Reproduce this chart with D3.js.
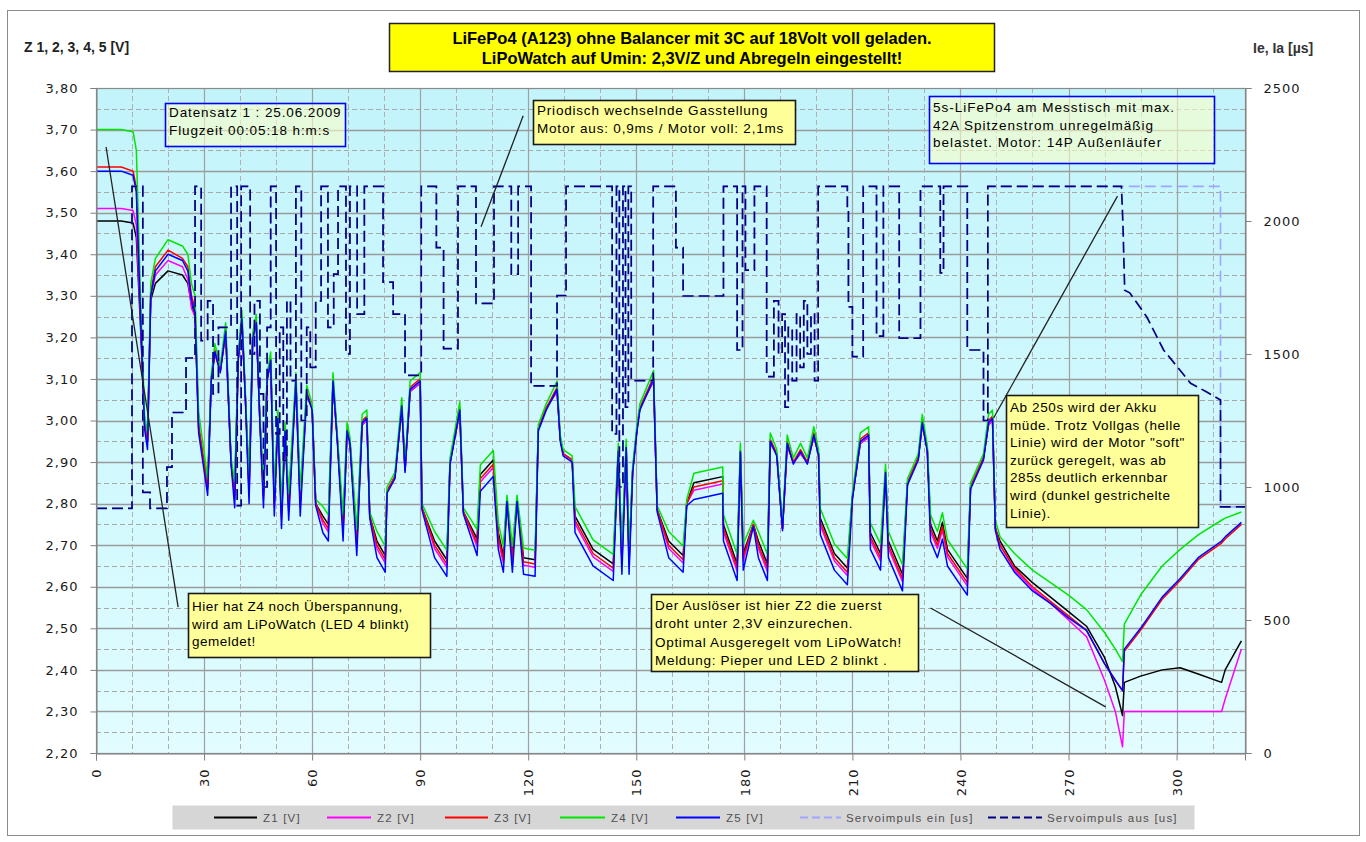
<!DOCTYPE html>
<html>
<head>
<meta charset="utf-8">
<script src="https://cdn.jsdelivr.net/npm/d3@7"></script>
<style>
  body { margin: 0; background: #fff; }
  svg { display: block; font-family: "Liberation Sans", Arial, sans-serif; }
</style>
</head>
<body>
<div id="chart"></div>
<script>
// Zeitachse [s] und Zellenspannungen Z1..Z5 [V]
var secs = [0, 7, 10.3, 11.2, 12.5, 13.5, 14.3, 15.2, 16.5, 20,
  24, 25.5, 26.5, 27.5, 28.5, 31, 32, 33, 34.5, 36,
  37.5, 38.5, 39.5, 40.5, 41.5, 42.5, 43.5, 44.5, 45.5, 46.5,
  47.5, 48.5, 49.5, 50.5, 51.5, 52.5, 53.5, 55.5, 56.7, 58.5,
  60, 61, 63, 64.5, 65.8, 67, 68.6, 69.7, 70.5, 72.4,
  73.9, 75.2, 76, 78, 80.3, 80.8, 83, 84.9, 85.8, 87.2,
  90, 90.5, 94, 97.4, 98.3, 101, 102, 105.8, 106.7, 110.3,
  111.7, 113.1, 114.1, 115.6, 116.9, 118.7, 121.9, 122.8, 125, 128,
  128.9, 129.7, 132.2, 133, 138, 143.6, 145, 146, 147.2, 148,
  149, 150.2, 151, 154.8, 155.8, 159, 163, 164, 166, 174,
  174.2, 178, 178.9, 179.7, 182.5, 183.9, 186.4, 187.2, 189, 190.6,
  191.9, 193.6, 195.6, 197.5, 199.3, 200.6, 201.1, 205, 208.6, 210,
  212.2, 214.5, 215, 217.8, 219.2, 220, 223.9, 225.3, 228.3, 229.4,
  230.8, 231.7, 233.6, 235, 236.4, 241.9, 242.8, 246.4, 247.8, 248.9,
  249.7, 251, 255, 260, 265, 270, 275, 280, 283, 285,
  285.5, 290, 296, 301, 306, 312.5, 313.5, 318];

var z1 = [3.48, 3.48, 3.475, 3.44, 3.20, 2.99, 2.95, 3.29, 3.33, 3.36,
  3.35, 3.33, 3.28, 3.25, 2.98, 2.84, 3.10, 3.16, 3.12, 3.21,
  2.90, 2.83, 3.15, 3.24, 3.05, 2.84, 3.20, 3.23, 3.00, 2.83,
  3.10, 3.14, 2.81, 3.00, 2.78, 2.97, 2.80, 3.09, 2.81, 3.06,
  3.03, 2.80, 2.77, 2.75, 3.09, 2.955, 2.75, 2.97, 2.95, 2.715,
  2.99, 3.00, 2.77, 2.71, 2.675, 2.83, 2.865, 3.03, 2.88, 3.07,
  3.09, 2.79, 2.71, 2.665, 2.90, 3.02, 2.78, 2.715, 2.87, 2.905,
  2.73, 2.675, 2.81, 2.675, 2.81, 2.67, 2.665, 2.98, 3.03, 3.07,
  2.955, 2.92, 2.905, 2.77, 2.69, 2.655, 2.92, 2.67, 2.93, 2.67,
  2.88, 2.98, 3.03, 3.095, 2.785, 2.71, 2.675, 2.80, 2.85, 2.865,
  2.75, 2.655, 2.92, 2.68, 2.75, 2.71, 2.655, 2.945, 2.92, 2.74,
  2.94, 2.90, 2.92, 2.90, 2.96, 2.92, 2.765, 2.68, 2.645, 2.815,
  2.945, 2.96, 2.73, 2.68, 2.87, 2.71, 2.63, 2.85, 2.91, 2.99,
  2.93, 2.75, 2.71, 2.755, 2.69, 2.62, 2.84, 2.91, 2.99, 3.00,
  2.74, 2.71, 2.65, 2.61, 2.575, 2.54, 2.505, 2.43, 2.36, 2.29,
  2.37, 2.385, 2.40, 2.405, 2.39, 2.37, 2.40, 2.47];

var z2 = [3.51, 3.51, 3.505, 3.47, 3.21, 2.99, 2.95, 3.30, 3.35, 3.385,
  3.37, 3.34, 3.27, 3.25, 2.98, 2.835, 3.10, 3.16, 3.12, 3.21,
  2.90, 2.812, 3.15, 3.24, 3.05, 2.822, 3.20, 3.23, 3.00, 2.812,
  3.10, 3.14, 2.792, 3.00, 2.762, 2.97, 2.782, 3.09, 2.792, 3.06,
  3.03, 2.80, 2.752, 2.732, 3.09, 2.955, 2.732, 2.97, 2.95, 2.697,
  2.99, 3.00, 2.77, 2.692, 2.657, 2.83, 2.865, 3.03, 2.88, 3.07,
  3.09, 2.79, 2.692, 2.647, 2.90, 3.02, 2.78, 2.697, 2.852, 2.887,
  2.712, 2.657, 2.81, 2.657, 2.81, 2.652, 2.647, 2.98, 3.03, 3.07,
  2.955, 2.92, 2.905, 2.752, 2.672, 2.637, 2.92, 2.652, 2.93, 2.652,
  2.88, 2.98, 3.03, 3.095, 2.785, 2.692, 2.657, 2.80, 2.832, 2.847,
  2.732, 2.637, 2.92, 2.662, 2.75, 2.692, 2.637, 2.945, 2.92, 2.74,
  2.94, 2.90, 2.92, 2.90, 2.96, 2.92, 2.747, 2.662, 2.627, 2.815,
  2.945, 2.96, 2.712, 2.662, 2.87, 2.692, 2.612, 2.85, 2.91, 2.99,
  2.93, 2.732, 2.692, 2.737, 2.672, 2.602, 2.84, 2.91, 2.99, 3.00,
  2.74, 2.70, 2.64, 2.595, 2.56, 2.52, 2.48, 2.375, 2.30, 2.215,
  2.30, 2.30, 2.30, 2.30, 2.30, 2.30, 2.33, 2.45];

var z3 = [3.61, 3.61, 3.60, 3.56, 3.22, 2.99, 2.95, 3.31, 3.37, 3.41,
  3.39, 3.37, 3.30, 3.27, 2.99, 2.84, 3.10, 3.17, 3.12, 3.22,
  2.90, 2.82, 3.15, 3.25, 3.05, 2.83, 3.20, 3.24, 3.00, 2.82,
  3.10, 3.15, 2.80, 3.01, 2.77, 2.98, 2.79, 3.10, 2.80, 3.07,
  3.03, 2.80, 2.76, 2.74, 3.10, 2.955, 2.74, 2.98, 2.95, 2.705,
  3.00, 3.01, 2.77, 2.70, 2.665, 2.83, 2.865, 3.04, 2.88, 3.08,
  3.10, 2.79, 2.70, 2.655, 2.90, 3.03, 2.78, 2.705, 2.86, 2.895,
  2.72, 2.665, 2.81, 2.665, 2.81, 2.66, 2.655, 2.98, 3.03, 3.08,
  2.955, 2.92, 2.905, 2.76, 2.68, 2.645, 2.93, 2.66, 2.94, 2.66,
  2.88, 2.98, 3.03, 3.105, 2.785, 2.70, 2.665, 2.80, 2.84, 2.855,
  2.74, 2.645, 2.93, 2.67, 2.75, 2.70, 2.645, 2.955, 2.92, 2.74,
  2.95, 2.90, 2.93, 2.90, 2.97, 2.92, 2.755, 2.67, 2.635, 2.815,
  2.955, 2.97, 2.72, 2.67, 2.88, 2.70, 2.62, 2.85, 2.91, 3.00,
  2.93, 2.74, 2.70, 2.745, 2.68, 2.61, 2.84, 2.91, 3.00, 3.01,
  2.74, 2.70, 2.645, 2.60, 2.565, 2.53, 2.495, 2.415, 2.375, 2.35,
  2.445, 2.495, 2.57, 2.615, 2.665, 2.705, 2.715, 2.75];

var z4 = [3.70, 3.70, 3.695, 3.65, 3.26, 3.01, 2.97, 3.33, 3.39, 3.435,
  3.42, 3.40, 3.33, 3.30, 3.02, 2.86, 3.11, 3.185, 3.13, 3.235,
  2.91, 2.853, 3.16, 3.265, 3.06, 2.863, 3.21, 3.255, 3.01, 2.853,
  3.11, 3.165, 2.833, 3.025, 2.803, 2.995, 2.823, 3.115, 2.833, 3.085,
  3.04, 2.81, 2.793, 2.773, 3.115, 2.965, 2.773, 2.995, 2.96, 2.738,
  3.015, 3.025, 2.78, 2.733, 2.698, 2.84, 2.875, 3.055, 2.89, 3.095,
  3.115, 2.80, 2.733, 2.688, 2.91, 3.045, 2.79, 2.738, 2.893, 2.928,
  2.753, 2.698, 2.82, 2.698, 2.82, 2.693, 2.688, 2.99, 3.04, 3.095,
  2.965, 2.93, 2.915, 2.793, 2.713, 2.678, 2.945, 2.693, 2.955, 2.693,
  2.89, 2.99, 3.04, 3.12, 2.795, 2.733, 2.698, 2.81, 2.873, 2.888,
  2.773, 2.678, 2.945, 2.703, 2.76, 2.733, 2.678, 2.97, 2.93, 2.75,
  2.965, 2.91, 2.945, 2.91, 2.985, 2.93, 2.788, 2.703, 2.668, 2.825,
  2.97, 2.985, 2.753, 2.703, 2.895, 2.733, 2.653, 2.86, 2.92, 3.015,
  2.94, 2.773, 2.733, 2.778, 2.713, 2.643, 2.85, 2.92, 3.015, 3.025,
  2.76, 2.72, 2.68, 2.64, 2.61, 2.58, 2.545, 2.49, 2.45, 2.42,
  2.51, 2.58, 2.65, 2.69, 2.725, 2.76, 2.765, 2.78];

var z5 = [3.60, 3.60, 3.59, 3.55, 3.22, 2.98, 2.93, 3.30, 3.36, 3.40,
  3.385, 3.36, 3.29, 3.26, 2.97, 2.82, 3.095, 3.165, 3.115, 3.215,
  2.895, 2.79, 3.145, 3.245, 3.045, 2.80, 3.195, 3.235, 2.995, 2.79,
  3.095, 3.145, 2.77, 3.005, 2.74, 2.975, 2.76, 3.095, 2.77, 3.065,
  3.025, 2.795, 2.73, 2.71, 3.095, 2.95, 2.71, 2.975, 2.945, 2.675,
  2.995, 3.005, 2.765, 2.67, 2.635, 2.825, 2.86, 3.035, 2.875, 3.075,
  3.095, 2.785, 2.67, 2.625, 2.895, 3.025, 2.775, 2.675, 2.83, 2.865,
  2.69, 2.635, 2.805, 2.635, 2.805, 2.63, 2.625, 2.975, 3.025, 3.075,
  2.95, 2.915, 2.90, 2.73, 2.65, 2.615, 2.925, 2.63, 2.935, 2.63,
  2.875, 2.975, 3.025, 3.10, 2.78, 2.67, 2.635, 2.795, 2.81, 2.825,
  2.71, 2.615, 2.925, 2.64, 2.745, 2.67, 2.615, 2.95, 2.915, 2.735,
  2.945, 2.895, 2.925, 2.895, 2.965, 2.915, 2.725, 2.64, 2.605, 2.81,
  2.95, 2.965, 2.69, 2.64, 2.875, 2.67, 2.59, 2.845, 2.905, 2.995,
  2.925, 2.71, 2.67, 2.715, 2.65, 2.58, 2.835, 2.905, 2.995, 3.005,
  2.735, 2.69, 2.635, 2.59, 2.56, 2.525, 2.495, 2.415, 2.375, 2.35,
  2.45, 2.50, 2.575, 2.62, 2.67, 2.71, 2.72, 2.755];

// Servoimpuls aus [us] als Stufenpunkte [s, us]
var servoAus = [[0, 920], [10, 920], [10, 2130], [13, 2130], [13, 980], [15, 980], [15, 920],
  [19.7, 920], [19.7, 1075], [21.1, 1075], [21.1, 1280], [25, 1280], [25, 1485], [27.5, 1485],
  [27.5, 2130], [29.2, 2130], [29.2, 1550], [31, 1550], [31, 1700], [32.5, 1700], [32.5, 1350],
  [34, 1350], [34, 1600], [37.5, 1600], [37.5, 2130], [39.2, 2130], [39.2, 930], [40.3, 930],
  [40.3, 2130], [42.8, 2130], [42.8, 1500], [44, 1500], [44, 1700], [45.5, 1700], [45.5, 1350],
  [46.5, 1350], [46.5, 1000], [47.5, 1000], [47.5, 1600], [48.5, 1600], [48.5, 2130], [50, 2130],
  [50, 1200], [51, 1200], [51, 1600], [52, 1600], [52, 1100], [53, 1100], [53, 1700], [54, 1700],
  [54, 1400], [55.5, 1400], [55.5, 2130], [57, 2130], [57, 1250], [58.5, 1250], [58.5, 1600],
  [59.5, 1600], [59.5, 1450], [61, 1450], [61, 1700], [62.5, 1700], [62.5, 2130], [64.4, 2130],
  [64.4, 1600], [66, 1600], [66, 1800], [67.2, 1800], [67.2, 2130], [69.4, 2130], [69.4, 1500],
  [70.5, 1500], [70.5, 2130], [72.5, 2130], [72.5, 1650], [74.5, 1650], [74.5, 2130], [79.7, 2130],
  [79.7, 1770], [82.5, 1770], [82.5, 1650], [85.8, 1650], [85.8, 1420], [90.3, 1420], [90.3, 2130],
  [94.5, 2130], [94.5, 1900], [96.5, 1900], [96.5, 1520], [100.5, 1520], [100.5, 2130],
  [105.5, 2130], [105.5, 1690], [110.5, 1690], [110.5, 2130], [115.3, 2130], [115.3, 1800],
  [117.2, 1800], [117.2, 2130], [120.8, 2130], [120.8, 1380], [128, 1380], [128, 1720],
  [130.5, 1720], [130.5, 2130], [143.3, 2130], [143.3, 1200], [144.5, 1200], [144.5, 2130],
  [145.3, 2130], [145.3, 1000], [146.3, 1000], [146.3, 2130], [147, 2130], [147, 1300],
  [147.8, 1300], [147.8, 2130], [148.6, 2130], [148.6, 1400], [154.7, 1400], [154.7, 2130],
  [161, 2130], [161, 1900], [163, 1900], [163, 1718], [174.2, 1718], [174.2, 2130], [178, 2130],
  [178, 1515], [179.5, 1515], [179.5, 2130], [180.3, 2130], [180.3, 1815], [182.8, 1815],
  [182.8, 2130], [186.2, 2130], [186.2, 1415], [188.2, 1415], [188.2, 1700], [189.5, 1700],
  [189.5, 1500], [190.5, 1500], [190.5, 1650], [191.3, 1650], [191.3, 1300], [192.2, 1300],
  [192.2, 1600], [193.3, 1600], [193.3, 1400], [194.5, 1400], [194.5, 1650], [195.5, 1650],
  [195.5, 1450], [196.5, 1450], [196.5, 1700], [197.5, 1700], [197.5, 1500], [198.5, 1500],
  [198.5, 1650], [199.5, 1650], [199.5, 1400], [200.5, 1400], [200.5, 2130], [208.6, 2130],
  [208.6, 2050], [208.9, 2050], [208.9, 1677], [210, 1677], [210, 1490], [213, 1490], [213, 2130],
  [216.7, 2130], [216.7, 1567], [218.6, 1567], [218.6, 2130], [223, 2130], [223, 1560],
  [228.9, 1560], [228.9, 2130], [234.4, 2130], [234.4, 1805], [235.3, 1805], [235.3, 2130],
  [241.9, 2130], [241.9, 1515], [246.4, 1515], [246.4, 1250], [247.6, 1250], [247.6, 2130],
  [284.7, 2130], [285.1, 1992], [285.6, 1740], [287, 1730], [291.7, 1640], [296.4, 1515],
  [303.9, 1390], [308, 1360], [312.2, 1327], [312.2, 925], [319, 925]];

// Servoimpuls ein [us]: deckt sich bis 284,7 s mit "aus", danach Vollgas
var servoEinTail = [[284.7, 2130], [312.2, 2130], [312.2, 925], [319, 925]];

var voltTicks = [2.2, 2.3, 2.4, 2.5, 2.6, 2.7, 2.8, 2.9, 3.0, 3.1, 3.2, 3.3, 3.4, 3.5, 3.6, 3.7, 3.8];
var servoTicks = [0, 500, 1000, 1500, 2000, 2500];
var timeTicks = [0, 30, 60, 90, 120, 150, 180, 210, 240, 270, 300];

var seriesNames = ['Z1 [V]', 'Z2 [V]', 'Z3 [V]', 'Z4 [V]', 'Z5 [V]'];
var seriesColors = ['#000000', '#ff00ff', '#ff0000', '#00e600', '#0000ff'];

var W = 1366, H = 842;
var plot = { left: 96, right: 1245, top: 88, bottom: 753 };

var svg = d3.select('#chart').append('svg')
    .attr('width', W)
    .attr('height', H);

var x = d3.scaleLinear().domain([0, 319]).range([plot.left, plot.right]);
var yV = d3.scaleLinear().domain([2.2, 3.8]).range([plot.bottom, plot.top]);
var yS = d3.scaleLinear().domain([0, 2500]).range([plot.bottom, plot.top]);

var de = d3.formatLocale({ decimal: ',', thousands: '.', grouping: [3], currency: ['', ' €'] });
var fmtV = de.format('.2f');

// outer frame
svg.append('rect')
    .attr('x', 7.5).attr('y', 10.5)
    .attr('width', 1352).attr('height', 825)
    .attr('fill', '#fff')
    .attr('stroke', '#8c8c8c');

var defs = svg.append('defs');
var grad = defs.append('linearGradient')
    .attr('id', 'plotBg')
    .attr('x1', 0).attr('y1', 0).attr('x2', 0).attr('y2', 1);
grad.append('stop').attr('offset', '0%').attr('stop-color', '#c3f4fb');
grad.append('stop').attr('offset', '65%').attr('stop-color', '#d3fafe');
grad.append('stop').attr('offset', '100%').attr('stop-color', '#e2fcff');

defs.append('clipPath').attr('id', 'plotClip')
    .append('rect')
    .attr('x', plot.left).attr('y', plot.top)
    .attr('width', plot.right - plot.left)
    .attr('height', plot.bottom - plot.top);

svg.append('rect')
    .attr('x', plot.left).attr('y', plot.top)
    .attr('width', plot.right - plot.left)
    .attr('height', plot.bottom - plot.top)
    .attr('fill', 'url(#plotBg)');

// gridlines
var grid = svg.append('g').attr('class', 'grid');
var minorV = yV.ticks(32).filter(function(v) { return Math.round(v * 100) % 10 !== 0; });
grid.selectAll('line.hminor')
    .data(minorV).enter().append('line')
    .attr('x1', plot.left).attr('x2', plot.right)
    .attr('y1', function(d) { return Math.round(yV(d)) + 0.5; })
    .attr('y2', function(d) { return Math.round(yV(d)) + 0.5; })
    .attr('stroke', '#a8a8a8').attr('stroke-dasharray', '5,3');
grid.selectAll('line.hmajor')
    .data(voltTicks.slice(1, -1)).enter().append('line')
    .attr('x1', plot.left).attr('x2', plot.right)
    .attr('y1', function(d) { return Math.round(yV(d)) + 0.5; })
    .attr('y2', function(d) { return Math.round(yV(d)) + 0.5; })
    .attr('stroke', '#9a9a9a').attr('stroke-width', 1.3);
var minorT = d3.range(10, 319, 10).filter(function(t) { return t % 30 !== 0; });
grid.selectAll('line.vminor')
    .data(minorT).enter().append('line')
    .attr('y1', plot.top).attr('y2', plot.bottom)
    .attr('x1', function(d) { return Math.round(x(d)) + 0.5; })
    .attr('x2', function(d) { return Math.round(x(d)) + 0.5; })
    .attr('stroke', '#b0b0b0').attr('stroke-dasharray', '5,3');
grid.selectAll('line.vmajor')
    .data(timeTicks.slice(1)).enter().append('line')
    .attr('y1', plot.top).attr('y2', plot.bottom)
    .attr('x1', function(d) { return Math.round(x(d)) + 0.5; })
    .attr('x2', function(d) { return Math.round(x(d)) + 0.5; })
    .attr('stroke', '#a0a0a0').attr('stroke-width', 1.2);

// data lines
var dataG = svg.append('g').attr('clip-path', 'url(#plotClip)');
var voltLine = d3.line()
    .x(function(d) { return x(d[0]); })
    .y(function(d) { return yV(d[1]); });
var servoLine = d3.line()
    .x(function(d) { return x(d[0]); })
    .y(function(d) { return yS(d[1]); });

[z1, z2, z3, z4, z5].forEach(function(vals, i) {
    var pts = secs.map(function(t, k) { return [t, vals[k]]; });
    dataG.append('path')
        .datum(pts)
        .attr('d', voltLine)
        .attr('fill', 'none')
        .attr('stroke', seriesColors[i])
        .attr('stroke-width', 1.5)
        .attr('stroke-linejoin', 'round');
});

var servoEin = servoAus.filter(function(p) { return p[0] < 284.7; }).concat(servoEinTail);
dataG.append('path')
    .datum(servoEin)
    .attr('d', servoLine)
    .attr('fill', 'none')
    .attr('stroke', '#9fa6ff')
    .attr('stroke-width', 1.6)
    .attr('stroke-dasharray', '11,5');
dataG.append('path')
    .datum(servoAus)
    .attr('d', servoLine)
    .attr('fill', 'none')
    .attr('stroke', '#000080')
    .attr('stroke-width', 1.7)
    .attr('stroke-dasharray', '11,5');

// plot border
svg.append('rect')
    .attr('x', plot.left + 0.5).attr('y', plot.top + 0.5)
    .attr('width', plot.right - plot.left)
    .attr('height', plot.bottom - plot.top)
    .attr('fill', 'none')
    .attr('stroke', '#8a8a8a')
    .attr('stroke-width', 1.2);

// axes
function styleAxis(g) {
    g.select('.domain').attr('stroke', '#808080');
    g.selectAll('.tick line').attr('stroke', '#808080');
    g.selectAll('.tick text')
        .attr('fill', '#1a1a1a')
        .style('font-family', '"DejaVu Sans", Verdana, sans-serif')
        .style('font-size', '13px')
        .style('letter-spacing', '1px');
}

svg.append('g')
    .attr('transform', 'translate(' + (plot.left + 0.5) + ',0)')
    .call(d3.axisLeft(yV).tickValues(voltTicks).tickSize(6).tickPadding(12).tickFormat(fmtV))
    .call(styleAxis);

svg.append('g')
    .attr('transform', 'translate(' + (plot.right + 0.5) + ',0)')
    .call(d3.axisRight(yS).tickValues(servoTicks).tickSize(6).tickPadding(12).tickFormat(d3.format('d')))
    .call(styleAxis);

var xAxisG = svg.append('g')
    .attr('transform', 'translate(0,' + (plot.bottom + 0.5) + ')')
    .call(d3.axisBottom(x).tickValues(timeTicks).tickSize(7).tickFormat(d3.format('d')))
    .call(styleAxis);
xAxisG.selectAll('.tick text')
    .attr('transform', 'rotate(-90)')
    .attr('x', -15)
    .attr('y', 0)
    .attr('dy', '0.36em')
    .style('text-anchor', 'end');

// axis titles
svg.append('text')
    .attr('x', 24).attr('y', 52)
    .attr('font-size', 14).attr('font-weight', 'bold')
    .attr('fill', '#222')
    .text('Z 1, 2, 3, 4, 5 [V]');
svg.append('text')
    .attr('x', 1253).attr('y', 53)
    .attr('font-size', 14).attr('font-weight', 'bold')
    .attr('fill', '#333')
    .text('Ie, Ia [µs]');

// title box
svg.append('rect')
    .attr('x', 389.5).attr('y', 23.5)
    .attr('width', 605).attr('height', 48)
    .attr('fill', '#ffff00')
    .attr('stroke', '#222').attr('stroke-width', 1.5);
var title = svg.append('text')
    .attr('text-anchor', 'middle')
    .attr('font-size', 16.5).attr('font-weight', 'bold')
    .attr('fill', '#000');
title.append('tspan').attr('x', 692).attr('y', 44)
    .text('LiFePo4 (A123) ohne Balancer mit 3C auf 18Volt voll geladen.');
title.append('tspan').attr('x', 692).attr('y', 64)
    .text('LiPoWatch auf Umin: 2,3V/Z und Abregeln eingestellt!');

// leader lines (in data units)
var leaders = [
    [[2.8, 3.658], [22.8, 2.551]],
    [[118.6, 3.733], [106.9, 3.466]],
    [[283.6, 3.54], [249.2, 3.006]],
    [[231.7, 2.549], [280.3, 2.311]]
];
svg.append('g').selectAll('line')
    .data(leaders).enter().append('line')
    .attr('x1', function(d) { return x(d[0][0]); })
    .attr('y1', function(d) { return yV(d[0][1]); })
    .attr('x2', function(d) { return x(d[1][0]); })
    .attr('y2', function(d) { return yV(d[1][1]); })
    .attr('stroke', '#222')
    .attr('stroke-width', 1.3);

// annotation boxes
var notes = [
    { x: 165, y: 103, w: 180, h: 43, kind: 'blue', lh: 18, ty: 117, ls: 0.9,
      lines: ['Datensatz 1 : 25.06.2009', 'Flugzeit 00:05:18 h:m:s'] },
    { x: 533, y: 100, w: 262, h: 44, kind: 'yellow', lh: 18, ty: 115, ls: 0.8,
      lines: ['Priodisch wechselnde Gasstellung', 'Motor aus: 0,9ms / Motor voll: 2,1ms'] },
    { x: 929, y: 96, w: 285, h: 67, kind: 'blue', lh: 17.5, ty: 112, ls: 1.0,
      lines: ['5s-LiFePo4 am Messtisch mit max.', '42A Spitzenstrom unregelmäßig', 'belastet. Motor: 14P Außenläufer'] },
    { x: 1006, y: 395, w: 192, h: 132, kind: 'yellow', lh: 17.6, ty: 412, ls: 0.6,
      lines: ['Ab 250s wird der Akku', 'müde. Trotz Vollgas (helle', 'Linie) wird der Motor "soft"',
              'zurück geregelt, was ab', '285s deutlich erkennbar', 'wird (dunkel gestrichelte', 'Linie).'] },
    { x: 188, y: 593, w: 242, h: 64, kind: 'yellow', lh: 17.5, ty: 611, ls: 0.5,
      lines: ['Hier hat Z4 noch Überspannung,', 'wird am LiPoWatch (LED 4 blinkt)', 'gemeldet!'] },
    { x: 651, y: 594, w: 267, h: 77, kind: 'yellow', lh: 18.3, ty: 610, ls: 0.7,
      lines: ['Der Auslöser ist hier Z2 die zuerst', 'droht unter 2,3V einzurechen.',
              'Optimal Ausgeregelt vom LiPoWatch!', 'Meldung: Pieper und LED 2 blinkt .'] }
];

var noteG = svg.append('g').selectAll('g')
    .data(notes).enter().append('g');
noteG.append('rect')
    .attr('x', function(d) { return d.x + 0.5; })
    .attr('y', function(d) { return d.y + 0.5; })
    .attr('width', function(d) { return d.w; })
    .attr('height', function(d) { return d.h; })
    .attr('fill', function(d) { return d.kind === 'blue' ? '#fbffc6' : '#ffff99'; })
    .attr('fill-opacity', function(d) { return d.kind === 'blue' ? 0.6 : 1; })
    .attr('stroke', function(d) { return d.kind === 'blue' ? '#0000ff' : '#1a1a1a'; })
    .attr('stroke-width', 1.6);
noteG.each(function(d) {
    var t = d3.select(this).append('text')
        .attr('font-size', 13.5)
        .style('letter-spacing', d.ls + 'px')
        .attr('fill', '#000');
    d.lines.forEach(function(line, i) {
        t.append('tspan')
            .attr('x', d.x + 4)
            .attr('y', d.ty + i * d.lh)
            .text(line);
    });
});

// legend
var legendItems = [
    { name: seriesNames[0], color: seriesColors[0], dash: null, x1: 214, x2: 257, tx: 263 },
    { name: seriesNames[1], color: seriesColors[1], dash: null, x1: 327, x2: 371, tx: 377 },
    { name: seriesNames[2], color: seriesColors[2], dash: null, x1: 445, x2: 488, tx: 494 },
    { name: seriesNames[3], color: seriesColors[3], dash: null, x1: 560, x2: 605, tx: 611 },
    { name: seriesNames[4], color: seriesColors[4], dash: null, x1: 676, x2: 720, tx: 726 },
    { name: 'Servoimpuls ein [us]', color: '#9fa6ff', dash: '8,4', x1: 800, x2: 841, tx: 846 },
    { name: 'Servoimpuls aus [us]', color: '#000080', dash: '8,4', x1: 988, x2: 1042, tx: 1047 }
];
var legend = svg.append('g');
legend.append('rect')
    .attr('x', 172.5).attr('y', 805.5)
    .attr('width', 1022).attr('height', 24)
    .attr('fill', '#d6d6d6');
var li = legend.selectAll('g.item')
    .data(legendItems).enter().append('g');
li.append('line')
    .attr('x1', function(d) { return d.x1; })
    .attr('x2', function(d) { return d.x2; })
    .attr('y1', 817.5).attr('y2', 817.5)
    .attr('stroke', function(d) { return d.color; })
    .attr('stroke-width', 1.8)
    .attr('stroke-dasharray', function(d) { return d.dash; });
li.append('text')
    .attr('x', function(d) { return d.tx; })
    .attr('y', 821.5)
    .attr('font-size', 11.5)
    .style('letter-spacing', '1.2px')
    .attr('fill', '#505050')
    .text(function(d) { return d.name; });
</script>
</body>
</html>
